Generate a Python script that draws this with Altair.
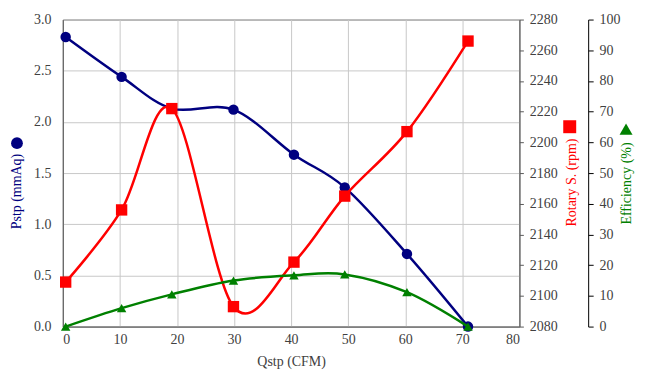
import altair as alt
import pandas as pd

q = [0.5, 10.3, 19.1, 29.9, 40.5, 49.4, 60.3, 71.0]
pstp = [2.83, 2.44, 2.13, 2.12, 1.68, 1.36, 0.71, 0.0]
rpm = [2109, 2156, 2222, 2093, 2122, 2165, 2207, 2266]
eff = [0.0, 6.0, 10.5, 15.0, 16.7, 17.0, 11.2, 0.0]

x_ticks = [0, 10, 20, 30, 40, 50, 60, 70, 80]
p_ticks = [0, 0.5, 1.0, 1.5, 2.0, 2.5, 3.0]
rpm_ticks = list(range(2080, 2281, 20))
eff_ticks = list(range(0, 101, 10))

df_p = pd.DataFrame({"q": q, "v": pstp})
df_r = pd.DataFrame({"q": q, "v": rpm})
df_e = pd.DataFrame({"q": q, "v": eff})

NAVY = "#000080"
RED = "#FF0000"
GREEN = "#008000"
FONT = "Liberation Serif"
common = dict(labelFont=FONT, titleFont=FONT, labelFontSize=14, titleFontSize=14)

xenc = alt.X("q:Q", scale=alt.Scale(domain=[0, 80], nice=False),
             axis=alt.Axis(values=x_ticks, title="Qstp (CFM)", grid=True, ticks=False,
                           labelPadding=6, titlePadding=8, format="d", **common))

base_p = alt.Chart(df_p).encode(
    x=xenc,
    y=alt.Y("v:Q", scale=alt.Scale(domain=[0, 3], nice=False),
            axis=alt.Axis(values=p_ticks, format=".1f", title="Pstp (mmAq)",
                          titleColor=NAVY, grid=True, ticks=False, labelPadding=12,
                          titleAngle=270, titleX=-46, titleY=172, titleAlign="center",
                          titleBaseline="middle", **common)),
)
# legend-key symbol next to the axis title
key_p = alt.Chart(df_p.head(1)).mark_point(
    shape="circle", filled=True, color=NAVY, size=140, opacity=1
).encode(x=alt.value(-46), y=alt.value(124))
layer_p = alt.layer(
    base_p.mark_line(color=NAVY, strokeWidth=2.5, interpolate="cardinal"),
    base_p.mark_point(shape="circle", filled=True, color=NAVY, size=110, opacity=1),
    key_p,
)

base_r = alt.Chart(df_r).encode(
    x=xenc,
    y=alt.Y("v:Q", scale=alt.Scale(domain=[2080, 2280], nice=False),
            axis=alt.Axis(values=rpm_ticks, orient="right", format="d",
                          title="Rotary S. (rpm)", titleColor=RED, grid=False,
                          tickSize=4, labelPadding=6, domain=True,
                          titleAngle=270, titleX=52, titleY=163, titleAlign="center",
                          titleBaseline="middle", **common)),
)
key_r = alt.Chart(df_r.head(1)).mark_square(
    filled=True, color=RED, size=169, opacity=1
).encode(x=alt.value(508.5), y=alt.value(107.5))
layer_r = alt.layer(
    base_r.mark_line(color=RED, strokeWidth=2.5, interpolate="cardinal"),
    base_r.mark_square(filled=True, color=RED, size=130, opacity=1),
    key_r,
)

base_e = alt.Chart(df_e).encode(
    x=xenc,
    y=alt.Y("v:Q", scale=alt.Scale(domain=[0, 100], nice=False),
            axis=alt.Axis(values=eff_ticks, orient="right", offset=69, format="d",
                          title="Efficiency (%)", titleColor=GREEN, grid=False,
                          tickSize=5, labelPadding=6, domainColor="#000000",
                          tickColor="#000000",
                          titleAngle=270, titleX=38, titleY=164, titleAlign="center",
                          titleBaseline="middle", **common)),
)
key_e = alt.Chart(df_e.head(1)).mark_point(
    shape="triangle-up", filled=True, color=GREEN, size=170, opacity=1
).encode(x=alt.value(565), y=alt.value(110))
layer_e = alt.layer(
    base_e.mark_line(color=GREEN, strokeWidth=2.5, interpolate="cardinal"),
    base_e.mark_point(shape="triangle-up", filled=True, color=GREEN, size=90, opacity=1),
    key_e,
)

chart = alt.layer(layer_p, layer_r, layer_e).resolve_scale(y="independent").properties(
    width=458, height=308,
    autosize=alt.AutoSizeParams(type="none"),
    padding={"left": 55, "top": 11, "right": 120, "bottom": 60},
    background="white",
).configure_axis(
    labelFont=FONT, titleFont=FONT, labelFontSize=14, titleFontSize=14,
    labelColor="#404040", titleColor="#404040", titleFontWeight="normal",
    gridColor="#C8C8C8", gridWidth=1, domainColor="#595959", tickColor="#595959",
    domainWidth=1,
).configure_view(stroke="#595959", strokeWidth=1)

chart.save("out.html", embed_options={"renderer": "svg", "actions": False})
